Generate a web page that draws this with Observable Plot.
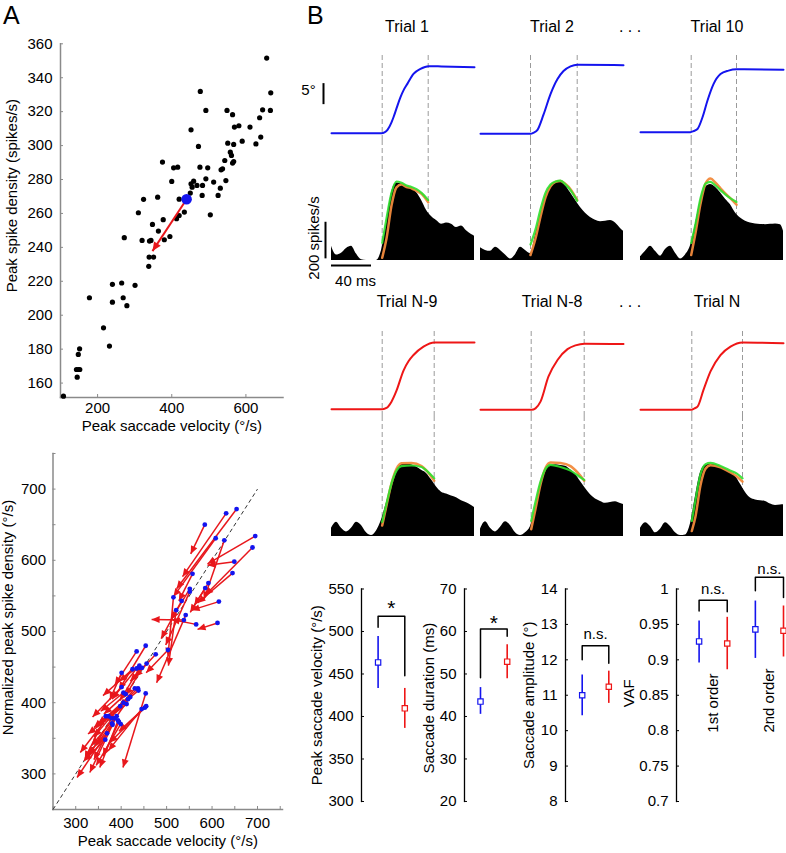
<!DOCTYPE html>
<html><head><meta charset="utf-8">
<script src="https://cdn.jsdelivr.net/npm/d3@7"></script>
<script src="https://cdn.jsdelivr.net/npm/@observablehq/plot@0.6"></script>
<style>
body{margin:0;background:#fff;}
#fig{position:relative;width:786px;height:853px;overflow:hidden;font-family:"Liberation Sans",Arial,sans-serif;color:#000;background:#fff;}
.lbl{position:absolute;white-space:nowrap;line-height:1;transform:translate(-50%,-50%);}
.letter{position:absolute;white-space:nowrap;line-height:1.12;font-size:25px;top:1px;}
</style></head><body><div id="fig"></div>
<script>
// ---------------- DATA ----------------
// Panel A (top): peak saccade velocity vs peak spike density
const scatterVel = [108,145,143,148,152,148,151.5,178,216,232,240,240,265,269,279,272,301,310,324,320,340,344,348,362,364,339,351,338,375,377,380,395,400,405,416,413,420,420,434,450,452,459,468,477,476,472,452,482,483,492,492,497,504,513,525,531,533,537,543,546,549,551,558,561,564,567,564,569,567,581,590,611,627,637,640,645,656,667,666,455];
const scatterSpk = [152.3,163.5,168,168,168,176.9,180.2,210.3,192.6,181.8,218.2,207.7,219,210.3,205.6,245.7,217.6,260.4,268.3,244.1,243.7,244.1,253.5,269.6,249.6,234.3,234.3,228.8,290.3,256.3,244.5,246.4,278.9,286.9,287.3,256.9,258.8,268.4,260.8,272,277.5,279,276.5,331.9,287.3,299.5,309.3,270.6,276.5,280.4,320.7,286.9,259.2,278.5,270.6,274.9,285.7,286.3,291.2,279.4,320.7,301.4,296.1,294.2,289.7,290.6,318.2,310.9,300.7,311.7,302.6,310.9,301,316.4,305,321.1,351.6,331.1,320.7,275.5];
const meanStart = [440, 268.4];   // blue dot (velocity, spike density)
const meanEnd = [348, 237.8];     // red arrow tip
const topYTicks = [160,180,200,220,240,260,280,300,320,340,360];
const topXLabels = [200,400,600];

// Panel A (bottom): arrows from first trials (blue) to last trials (red head)
const arrStartVel = [584,631,654,608,627,695,689,649,645,615,612,557,592,585,551,551,538,515,521,542,565,533,503,476,454,434,456,401,434,441,446,401,405,410,437,438,454,412,398,452,445,366,379,390,393,380,381,399,369,365,420,430,372,385,395,405,415,425,440,455];
const arrStartSpk = [650,666,672,631,628,634,618,598,582,542,512,581,568,561,560,556,516,548,530,523,510,543,474,468,480,472,455,442,448,449,449,422,414,412,420,417,413,398,395,393,391,381,378,381,375,371,369,370,357,348,408,420,381,378,373,400,405,447,452,395];
const arrEndVel   = [553,535,522,515,582,590,585,590,568,555,568,527,561,552,510,498,467,503,504,478,511,488,455,430,395,386,420,375,380,397,410,337,355,362,350,395,404,327,346,375,372,320,330,331,353,340,303,345,325,318,345,340,310,335,360,340,370,360,395,395];
const arrEndSpk   = [609,577,560,549,545,595,551,593,540,530,503,543,537,527,517,481,517,466,452,428,517,490,442,436,418,425,430,404,405,403,410,380,388,384,370,395,309,356,366,344,333,321,326,302,309,320,295,312,328,318,340,352,330,340,325,365,375,410,430,360];
const diagonal = [250, 700];
const botTicks = [250,300,350,400,450,500,550,600,650,700,750];
const botLabels = [300,400,500,600,700];

// Panel B: traces (time in ms from window start)
const T = [0,5,10,15,20,25,30,35,40,45,50,55,60,65,70,75,80,85,90,95,100,105,110,115,120,125,130,135,140,143];
const rateT1  = [78,30,40,66,78,35,4,0,0,0,55,200,370,424,418,405,395,372,330,275,240,218,198,205,198,180,188,162,142,133];
const rateT2  = [70,55,50,72,55,30,8,32,72,55,38,140,250,350,406,428,432,410,370,330,290,258,235,220,212,214,218,205,175,160];
const rateT10 = [20,50,78,50,24,60,78,40,8,30,80,200,330,400,415,400,370,335,305,260,233,215,205,200,197,196,198,200,195,160];
const rateN9  = [45,78,45,25,45,78,60,20,5,30,90,185,280,365,392,396,392,380,362,345,310,270,242,232,222,212,196,185,170,158];
const rateN8  = [40,80,45,25,50,80,60,20,5,20,55,150,280,360,388,392,388,384,365,340,300,262,228,205,192,182,186,190,180,175];
const rateN   = [45,75,55,20,40,75,55,20,5,8,70,220,350,390,395,392,382,370,350,330,285,240,210,200,196,192,177,170,172,173];

const posT1  = [[0,0],[50,0],[53,0.2],[56,0.8],[60,2.6],[62,3.8],[65,5.9],[69,8.6],[72,10.2],[76,11.8],[82,14.1],[89,15.3],[97,15.95],[110,15.9],[143,15.7]];
const posT2  = [[0,-0.16],[50,-0.16],[53,0.1],[57,0.8],[63,4.4],[70,9.3],[77,12.9],[83,14.8],[90,15.9],[97,16.3],[143,16.2]];
const posT10 = [[0,0.24],[50,0.24],[53,0.5],[57,1.0],[62,3.8],[67,7.8],[73,11.7],[80,14.1],[88,14.9],[96,15.2],[143,15.1]];
const posN9  = [[0,0],[51,0],[55,0.3],[60,1.8],[65,4.4],[72,9.2],[77,11.4],[82,12.9],[92,14.9],[103,15.9],[143,15.9]];
const posN8  = [[0,-0.16],[51,-0.16],[55,0.2],[60,1.8],[68,7.8],[77,11.7],[87,14.3],[95,15.2],[104,15.6],[143,15.5]];
const posN   = [[0,-0.16],[50,-0.16],[54,0.2],[57,0.6],[63,4.6],[70,9.0],[80,12.9],[90,14.9],[102,15.9],[143,15.7]];

const greenT1  = [[50.7,96],[55,230],[60,370],[65,432],[70,425],[75,410],[80,402],[85,390],[90,370],[96.7,330]];
const orangeT1 = [[50.7,15],[55,120],[60,300],[65,400],[70,415],[75,402],[80,395],[85,380],[90,365],[96.7,318]];
const greenT2  = [[50,87],[55,170],[60,280],[65,370],[70,415],[75,432],[80,437],[85,415],[90,385],[96.7,326]];
const orangeT2 = [[50,30],[55,120],[60,240],[65,345],[70,405],[75,430],[80,435],[85,418],[90,390],[96.7,330]];
const greenT10 = [[50.7,96],[55,200],[60,340],[65,420],[70,430],[75,410],[80,385],[85,360],[90,340],[96,320]];
const orangeT10= [[50.7,30],[55,150],[60,310],[65,420],[70,448],[75,425],[80,395],[85,365],[90,340],[96,305]];
const greenN9  = [[50.7,80],[55,180],[60,290],[65,360],[70,385],[80,388],[90,380],[95,360],[102.7,318]];
const orangeN9 = [[50.7,60],[55,170],[60,290],[65,370],[70,400],[80,402],[90,385],[95,360],[102.7,305]];
const greenN8  = [[50.7,85],[55,190],[60,300],[65,370],[70,392],[80,380],[90,360],[97,335],[103.7,309]];
const orangeN8 = [[50.7,40],[55,150],[60,285],[65,375],[70,405],[80,402],[90,385],[97,350],[103.7,305]];
const greenN   = [[51.3,85],[55,200],[60,340],[65,395],[70,402],[80,385],[90,360],[96,345],[102,318]];
const orangeN  = [[51.3,30],[55,110],[60,280],[65,370],[70,390],[80,378],[90,350],[96,330],[102,300]];

const trialTitles = ["Trial 1","Trial 2","Trial 10","Trial N-9","Trial N-8","Trial N"];
const saccOn  = [50.7,50,50.7,50.7,50.7,51.3];
const saccOff = [96.7,96.7,96,102.7,103.7,102];

// Panel B (bottom): means and error bars (first trials, last trials)
const velMean = [463.6,409.6], velLo = [433,386], velHi = [494,433];
const durMean = [43.5,52.9], durLo = [40.5,48.9], durHi = [46.8,56.9];
const ampMean = [11.0,11.24], ampLo = [10.42,10.77], ampHi = [11.57,11.68];
const vafMean = [0.926,0.923,0.943,0.941], vafLo = [0.8955,0.886,0.902,0.904], vafHi = [0.955,0.96,0.983,0.976];
const velTicks = [300,350,400,450,500,550];
const durTicks = [20,30,40,50,60,70];
const ampTicks = [8,9,10,11,12,13,14];
const vafTicks = [0.7,0.75,0.8,0.85,0.9,0.95,1];

// ---------------- DRAW ----------------
const BLUE = "#1414ee", RED = "#ee1616", ARROW = "#e8171c", GREEN = "#2ee02e", ORANGE = "#f28a3c";
const FONT = "Liberation Sans, Arial, sans-serif";
const baseStyle = {fontFamily: FONT, fontSize: "15px", background: "transparent", overflow: "visible", color: "black"};
const fig = document.getElementById("fig");
function place(el, left, top) { el.style.position = "absolute"; el.style.left = left + "px"; el.style.top = top + "px"; fig.appendChild(el); }
function addText(txt, cx, cy, size) {
  const d = document.createElement("div"); d.className = "lbl"; d.textContent = txt;
  d.style.left = cx + "px"; d.style.top = cy + "px"; d.style.fontSize = size + "px"; fig.appendChild(d);
}
function addLetter(txt, left) {
  const d = document.createElement("div"); d.className = "letter"; d.textContent = txt;
  d.style.left = left + "px"; fig.appendChild(d);
}
function fixMarkers(svg, len, half) {
  svg.querySelectorAll("marker").forEach(m => {
    const color = m.getAttribute("stroke");
    m.setAttribute("viewBox", `${-len - 1} ${-half - 1} ${len + 2} ${2 * half + 2}`);
    m.setAttribute("markerUnits", "userSpaceOnUse");
    m.setAttribute("markerWidth", len + 2);
    m.setAttribute("markerHeight", 2 * half + 2);
    m.setAttribute("fill", color); m.setAttribute("stroke", "none");
    m.querySelectorAll("path").forEach(p => p.setAttribute("d", `M${-len},${-half}L0,0L${-len},${half}Z`));
  });
}

addLetter("A", 3);
addLetter("B", 307);

// Panel A top
{
  const pts = scatterVel.map((v, i) => ({v, s: scatterSpk[i]}));
  const p = Plot.plot({
    width: 300, height: 440, marginLeft: 60, marginTop: 43.3, marginRight: 17.5, marginBottom: 43,
    style: baseStyle,
    x: {domain: [100, 700]}, y: {domain: [151.5, 360]},
    marks: [
      Plot.frame({anchor: "left", stroke: "#8a8a8a", strokeWidth: 1.5}),
      Plot.frame({anchor: "bottom", stroke: "#8a8a8a", strokeWidth: 1.5}),
      Plot.axisY({ticks: topYTicks, tickSize: -3, tickPadding: 11, label: null, stroke: "#8a8a8a", tickFormat: d => String(d)}),
      Plot.axisX({ticks: topXLabels, tickSize: -3, tickPadding: 8, label: null, stroke: "#8a8a8a", tickFormat: d => String(d)}),
      Plot.dot(pts, {x: "v", y: "s", r: 2.6, fill: "black"}),
      Plot.link([0], {x1: () => meanStart[0], y1: () => meanStart[1], x2: () => meanEnd[0], y2: () => meanEnd[1], stroke: ARROW, strokeWidth: 2, markerEnd: "arrow"}),
      Plot.dot([meanStart], {x: d => d[0], y: d => d[1], r: 5.3, fill: BLUE}),
      Plot.text(["Peak spike density (spikes/s)"], {text: d => d, frameAnchor: "left", textAnchor: "middle", rotate: -90, dx: -48, dy: -25}),
      Plot.text(["Peak saccade velocity (°/s)"], {text: d => d, frameAnchor: "bottom", textAnchor: "middle", dy: 33.5})
    ]
  });
  fixMarkers(p, 9, 4);
  place(p, 0, 0);
}

// Panel A bottom
{
  const arrows = arrStartVel.map((v, i) => ({x1: v, y1: arrStartSpk[i], x2: arrEndVel[i], y2: arrEndSpk[i]}));
  const p = Plot.plot({
    width: 300, height: 433, marginLeft: 52.5, marginTop: 33, marginRight: 18, marginBottom: 44,
    style: baseStyle,
    x: {domain: [250, 755]}, y: {domain: [250, 750]},
    marks: [
      Plot.frame({anchor: "left", stroke: "#8a8a8a", strokeWidth: 1.5}),
      Plot.frame({anchor: "bottom", stroke: "#8a8a8a", strokeWidth: 1.5}),
      Plot.axisY({ticks: botTicks, tickSize: -3, tickPadding: 10, label: null, stroke: "#8a8a8a", tickFormat: d => botLabels.includes(d) ? String(d) : ""}),
      Plot.axisX({ticks: botTicks, tickSize: -3, tickPadding: 11, label: null, stroke: "#8a8a8a", tickFormat: d => botLabels.includes(d) ? String(d) : ""}),
      Plot.link([diagonal], {x1: d => d[0], y1: d => d[0], x2: d => d[1], y2: d => d[1], stroke: "#333", strokeWidth: 1, strokeDasharray: "4,3"}),
      Plot.link(arrows, {x1: "x1", y1: "y1", x2: "x2", y2: "y2", stroke: ARROW, strokeWidth: 1.5, markerEnd: "arrow"}),
      Plot.dot(arrows, {x: "x1", y: "y1", r: 2.4, fill: BLUE}),
      Plot.text(["Normalized peak spike density (°/s)"], {text: d => d, frameAnchor: "left", textAnchor: "middle", rotate: -90, dx: -45, dy: -14}),
      Plot.text(["Peak saccade velocity (°/s)"], {text: d => d, frameAnchor: "bottom", textAnchor: "middle", dy: 36})
    ]
  });
  fixMarkers(p, 8, 3.5);
  place(p, 0, 420);
}

// Panel B traces
{
  const rates = [rateT1, rateT2, rateT10, rateN9, rateN8, rateN];
  const poss = [posT1, posT2, posT10, posN9, posN8, posN];
  const greens = [greenT1, greenT2, greenT10, greenN9, greenN8, greenN];
  const oranges = [orangeT1, orangeT2, orangeT10, orangeN9, orangeN8, orangeN];
  const colLeft = [331, 480, 640];
  const titleX = [407, 552, 717];
  const rowOff = [0, 276];
  const mL = 35, W = 143, mR = 6;
  for (let k = 0; k < 6; k++) {
    const row = Math.floor(k / 3), col = k % 3, first = (k === 0);
    const color = row === 0 ? BLUE : RED;
    const dash = {stroke: "#9a9a9a", strokeWidth: 1, strokeDasharray: "5,3"};
    const posMarks = [
      Plot.ruleX([saccOn[k], saccOff[k]], {...dash, insetTop: 5}),
      Plot.line(poss[k], {x: d => d[0], y: d => d[1], stroke: color, strokeWidth: 2, curve: "monotone-x"})
    ];
    if (first) {
      posMarks.push(Plot.ruleX([5], {x: -8, y1: 6.8, y2: d => 6.8 + d, stroke: "black", strokeWidth: 2}));
      posMarks.push(Plot.text(["5°"], {text: d => d, x: -8, y: 9.3, dx: -15, dy: -4, fontSize: 15}));
    }
    const pp = Plot.plot({
      width: mL + W + mR, height: 90, marginLeft: mL, marginRight: mR, marginTop: 0, marginBottom: 0,
      style: baseStyle,
      x: {domain: [0, 143], axis: null}, y: {domain: [-1.74, 19.69], axis: null},
      marks: posMarks
    });
    place(pp, colLeft[col] - mL, 50 + rowOff[row]);

    const area = T.map((t, i) => ({t, r: rates[k][i]}));
    const spkMarks = [
      Plot.ruleX([saccOn[k], saccOff[k]], dash),
      Plot.areaY(area, {x: "t", y: "r", fill: "black", curve: "monotone-x"}),
      Plot.line(oranges[k], {x: d => d[0], y: d => d[1], stroke: ORANGE, strokeWidth: 2.5, curve: "monotone-x", strokeOpacity: 0.95}),
      Plot.line(greens[k], {x: d => d[0], y: d => d[1], stroke: GREEN, strokeWidth: 2.2, curve: "monotone-x", strokeOpacity: 0.9})
    ];
    if (first) {
      spkMarks.push(Plot.ruleX([200], {x: -6, y1: 9, y2: d => 9 + d, stroke: "black", strokeWidth: 2}));
      spkMarks.push(Plot.ruleY([40], {y: -27, x1: 0, x2: d => d, stroke: "black", strokeWidth: 2}));
      spkMarks.push(Plot.text(["200 spikes/s"], {text: d => d, x: -17, y: 123, rotate: -90, fontSize: 15}));
      spkMarks.push(Plot.text(["40 ms"], {text: d => d, x: 20, y: -115, dx: 4, fontSize: 15}));
    }
    const sp = Plot.plot({
      width: mL + W + mR, height: 152, marginLeft: mL, marginRight: mR, marginTop: 0, marginBottom: 32,
      style: baseStyle,
      x: {domain: [0, 143], axis: null}, y: {domain: [0, 656], axis: null},
      marks: spkMarks
    });
    place(sp, colLeft[col] - mL, 140 + rowOff[row]);
    addText(trialTitles[k], titleX[col], 26.5 + rowOff[row] - (row ? 1 : 0), 16);
  }
  addText(". . .", 630, 27, 16);
  addText(". . .", 630, 302, 16);
}

// Panel B bottom: error bar plots
function errPlot(o) {
  const mL = 62, mR = 10, mT = 48.5, plotH = 212.5, mB = 30, top = 540;
  const n = o.mean.length;
  const width = mL + (o.xs[n - 1] - o.axisPx) + mR;
  const data = o.mean.map((m, i) => ({i: i + 1, m, lo: o.lo[i], hi: o.hi[i], c: o.colors[i]}));
  const marks = [
    Plot.frame({anchor: "left", stroke: "black", strokeWidth: 1.3}),
    Plot.axisY({ticks: o.ticks, tickSize: -3, tickPadding: 11, label: null, tickFormat: d => String(d)}),
    Plot.ruleX(data, {x: "i", y1: "lo", y2: "hi", stroke: "c", strokeWidth: 1.6}),
    Plot.dot(data, {x: "i", y: "m", symbol: "square", r: 3, stroke: "c", fill: "white", strokeWidth: 1.2}),
    Plot.line(o.bracket, {x: d => d[0], y: d => d[1], z: d => d[2], stroke: "black", strokeWidth: 1.5}),
    Plot.text(o.sig, {x: d => d[0], y: d => d[1], text: d => d[2], fontSize: d => d[2] === "*" ? 21 : 15}),
    Plot.text([o.label], {text: d => d, frameAnchor: "left", textAnchor: "middle", rotate: -90, dx: o.ldx, dy: o.ldy})
  ];
  if (o.extra) marks.push(o.extra);
  const p = Plot.plot({
    width, height: mT + plotH + mB, marginLeft: mL, marginRight: mR, marginTop: mT, marginBottom: mB,
    style: baseStyle,
    color: {type: "identity"},
    x: {domain: [1, n], insetLeft: o.xs[0] - o.axisPx, insetRight: 0, axis: null},
    y: {domain: o.domain},
    marks
  });
  place(p, o.axisPx - mL, top);
}
errPlot({axisPx: 360.7, xs: [377.3, 404], mean: velMean, lo: velLo, hi: velHi, colors: [BLUE, RED],
  domain: [300, 550], ticks: velTicks, label: "Peak saccade velocity (°/s)", ldx: -44, ldy: 0,
  bracket: [[1, 505, "a"], [1, 518, "a"], [2, 518, "a"], [2, 448, "a"]], sig: [[1.5, 527, "*"]]});
errPlot({axisPx: 464, xs: [480, 506.7], mean: durMean, lo: durLo, hi: durHi, colors: [BLUE, RED],
  domain: [20, 70], ticks: durTicks, label: "Saccade duration (ms)", ldx: -35.7, ldy: 3,
  bracket: [[1, 49.1, "a"], [1, 60.6, "a"], [2, 60.6, "a"], [2, 58.9, "a"]], sig: [[1.5, 61.9, "*"]]});
errPlot({axisPx: 565, xs: [581.7, 608.3], mean: ampMean, lo: ampLo, hi: ampHi, colors: [BLUE, RED],
  domain: [8, 14], ticks: ampTicks, label: "Saccade amplitude (°)", ldx: -36.7, ldy: 0,
  bracket: [[1, 12.0, "a"], [1, 12.4, "a"], [2, 12.4, "a"], [2, 11.9, "a"]], sig: [[1.5, 12.73, "n.s."]]});
errPlot({axisPx: 675.7, xs: [698.3, 726, 754.3, 782.7], mean: vafMean, lo: vafLo, hi: vafHi, colors: [BLUE, RED, BLUE, RED],
  domain: [0.7, 1], ticks: vafTicks, label: "VAF", ldx: -47.4, ldy: -2,
  bracket: [[1, 0.969, "a"], [1, 0.984, "a"], [2, 0.984, "a"], [2, 0.968, "a"], [3, 0.9976, "b"], [3, 1.0165, "b"], [4, 1.0165, "b"], [4, 0.988, "b"]],
  sig: [[1.5, 0.9993, "n.s."], [3.5, 1.0283, "n.s."]],
  extra: Plot.text([[1.5, 0.839, "1st order"], [3.5, 0.8426, "2nd order"]], {x: d => d[0], y: d => d[1], text: d => d[2], rotate: -90})});
</script></body></html>
